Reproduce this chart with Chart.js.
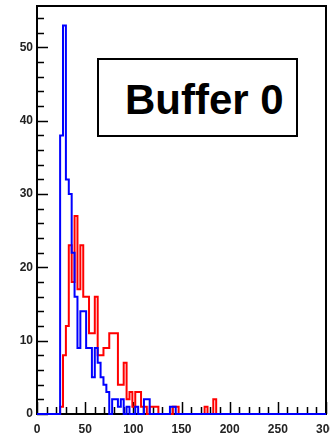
<!DOCTYPE html>
<html>
<head>
<meta charset="utf-8">
<script src="https://cdn.jsdelivr.net/npm/chart.js@4.4.0/dist/chart.umd.min.js"></script>
<style>
  html, body { margin: 0; padding: 0; background: #fff; }
  #wrap { position: relative; width: 330px; height: 438px; }
  #c { position: absolute; left: 0; top: 0; }
  #label {
    position: absolute; left: 97px; top: 58px; width: 197px; height: 75px;
    border: 2px solid #000; background: #fff;
    font: bold 42px "Liberation Sans", Arial, sans-serif; color: #000;
    box-sizing: content-box;
  }
  #label span { position: absolute; left: 26px; top: 16px; line-height: 48px; white-space: nowrap; }
</style>
</head>
<body>
<div id="wrap">
  <canvas id="c" width="330" height="438"></canvas>
  <div id="label"><span>Buffer 0</span></div>
</div>
<script>
// Histogram: 100 bins of width 3 over 0..300
const xMin = 0;
const xMax = 300;
const binWidth = 3;
const xTickLabels = [0, 50, 100, 150, 200, 250, 300];
const yTickLabels = [0, 10, 20, 30, 40, 50];
const yMax = 55.65;

const blueCounts = [
  0,0,0,0,0,0,0,0,0,38,
  53,32,30,22,16,9,14,14,9,9,
  5,9,7,5,4,3,0,2,2,1,
  2,0,1,0,0,1,0,0,2,2,
  0,0,0,0,0,0,0,1,1,0,
  0,0,0,0,0,0,0,0,0,0,
  0,0,0,0,0,0,0,0,0,0,
  0,0,0,0,0,0,0,0,0,0,
  0,0,0,0,0,0,0,0,0,0,
  0,0,0,0,0,0,0,0,0,0
];
const redCounts = [
  0,0,0,0,0,0,0,0,0,1,
  8,12,23,18,27,17,23,16,16,11,
  11,16,8,8,9,9,11,11,11,4,
  4,7,2,3,1,3,3,1,1,0,
  1,1,1,0,0,0,0,0,1,1,
  0,0,0,0,0,0,0,0,0,1,
  0,0,2,0,0,0,0,0,0,0,
  0,0,0,0,0,0,0,0,0,0,
  0,0,0,0,0,0,0,0,0,0,
  0,0,0,0,0,0,0,0,0,0
];

function toSteps(counts) {
  const pts = counts.map((v, i) => ({ x: xMin + i * binWidth, y: v }));
  pts.push({ x: xMax, y: 0 });
  return pts;
}

const framePlugin = {
  id: 'frame',
  beforeDatasetsDraw(chart) {
    const ctx = chart.ctx;
    const a = chart.chartArea;
    const xs = chart.scales.x, ys = chart.scales.y;
    ctx.save();
    ctx.strokeStyle = '#000';
    ctx.lineWidth = 2;
    ctx.strokeRect(a.left, a.top, a.right - a.left, a.bottom - a.top);
    ctx.lineWidth = 1.5;
    ctx.beginPath();
    for (let v = xMin; v <= xMax; v += 10) {
      const px = Math.round(xs.getPixelForValue(v)) + 0.5;
      const len = (v % 50 === 0) ? 12 : 7;
      ctx.moveTo(px, a.bottom);
      ctx.lineTo(px, a.bottom - len);
    }
    for (let v = 0; v <= yMax; v += 2) {
      const py = Math.round(ys.getPixelForValue(v)) + 0.5;
      const len = (v % 10 === 0) ? 11 : 7;
      ctx.moveTo(a.left, py);
      ctx.lineTo(a.left + len, py);
    }
    ctx.stroke();
    ctx.restore();
  }
};

new Chart(document.getElementById('c'), {
  type: 'line',
  data: {
    datasets: [
      { data: toSteps(blueCounts), borderColor: '#0000ff', borderWidth: 2, stepped: 'after', pointRadius: 0, fill: false, clip: 4 },
      { data: toSteps(redCounts), borderColor: '#ff0000', borderWidth: 2, stepped: 'after', pointRadius: 0, fill: false, clip: 4 }
    ]
  },
  options: {
    responsive: false,
    animation: false,
    layout: { padding: { top: 6, right: 4, left: 0, bottom: 0 } },
    plugins: { legend: { display: false }, tooltip: { enabled: false } },
    scales: {
      x: {
        type: 'linear', min: xMin, max: xMax,
        grid: { display: false, drawTicks: false },
        border: { display: false },
        afterBuildTicks: s => { s.ticks = xTickLabels.map(v => ({ value: v })); },
        afterFit: s => { s.height = 24; s.paddingLeft = 0; s.paddingRight = 0; },
        ticks: { color: '#222', padding: 8, maxRotation: 0, autoSkip: false, font: { family: 'Liberation Sans', size: 12, weight: 'bold' } }
      },
      y: {
        type: 'linear', min: 0, max: yMax,
        grid: { display: false, drawTicks: false },
        border: { display: false },
        afterBuildTicks: s => { s.ticks = yTickLabels.map(v => ({ value: v })); },
        afterFit: s => { s.width = 37; s.paddingTop = 0; s.paddingBottom = 0; },
        ticks: { color: '#222', padding: 4, font: { family: 'Liberation Sans', size: 12, weight: 'bold' } }
      }
    }
  },
  plugins: [framePlugin]
});
</script>
</body>
</html>
